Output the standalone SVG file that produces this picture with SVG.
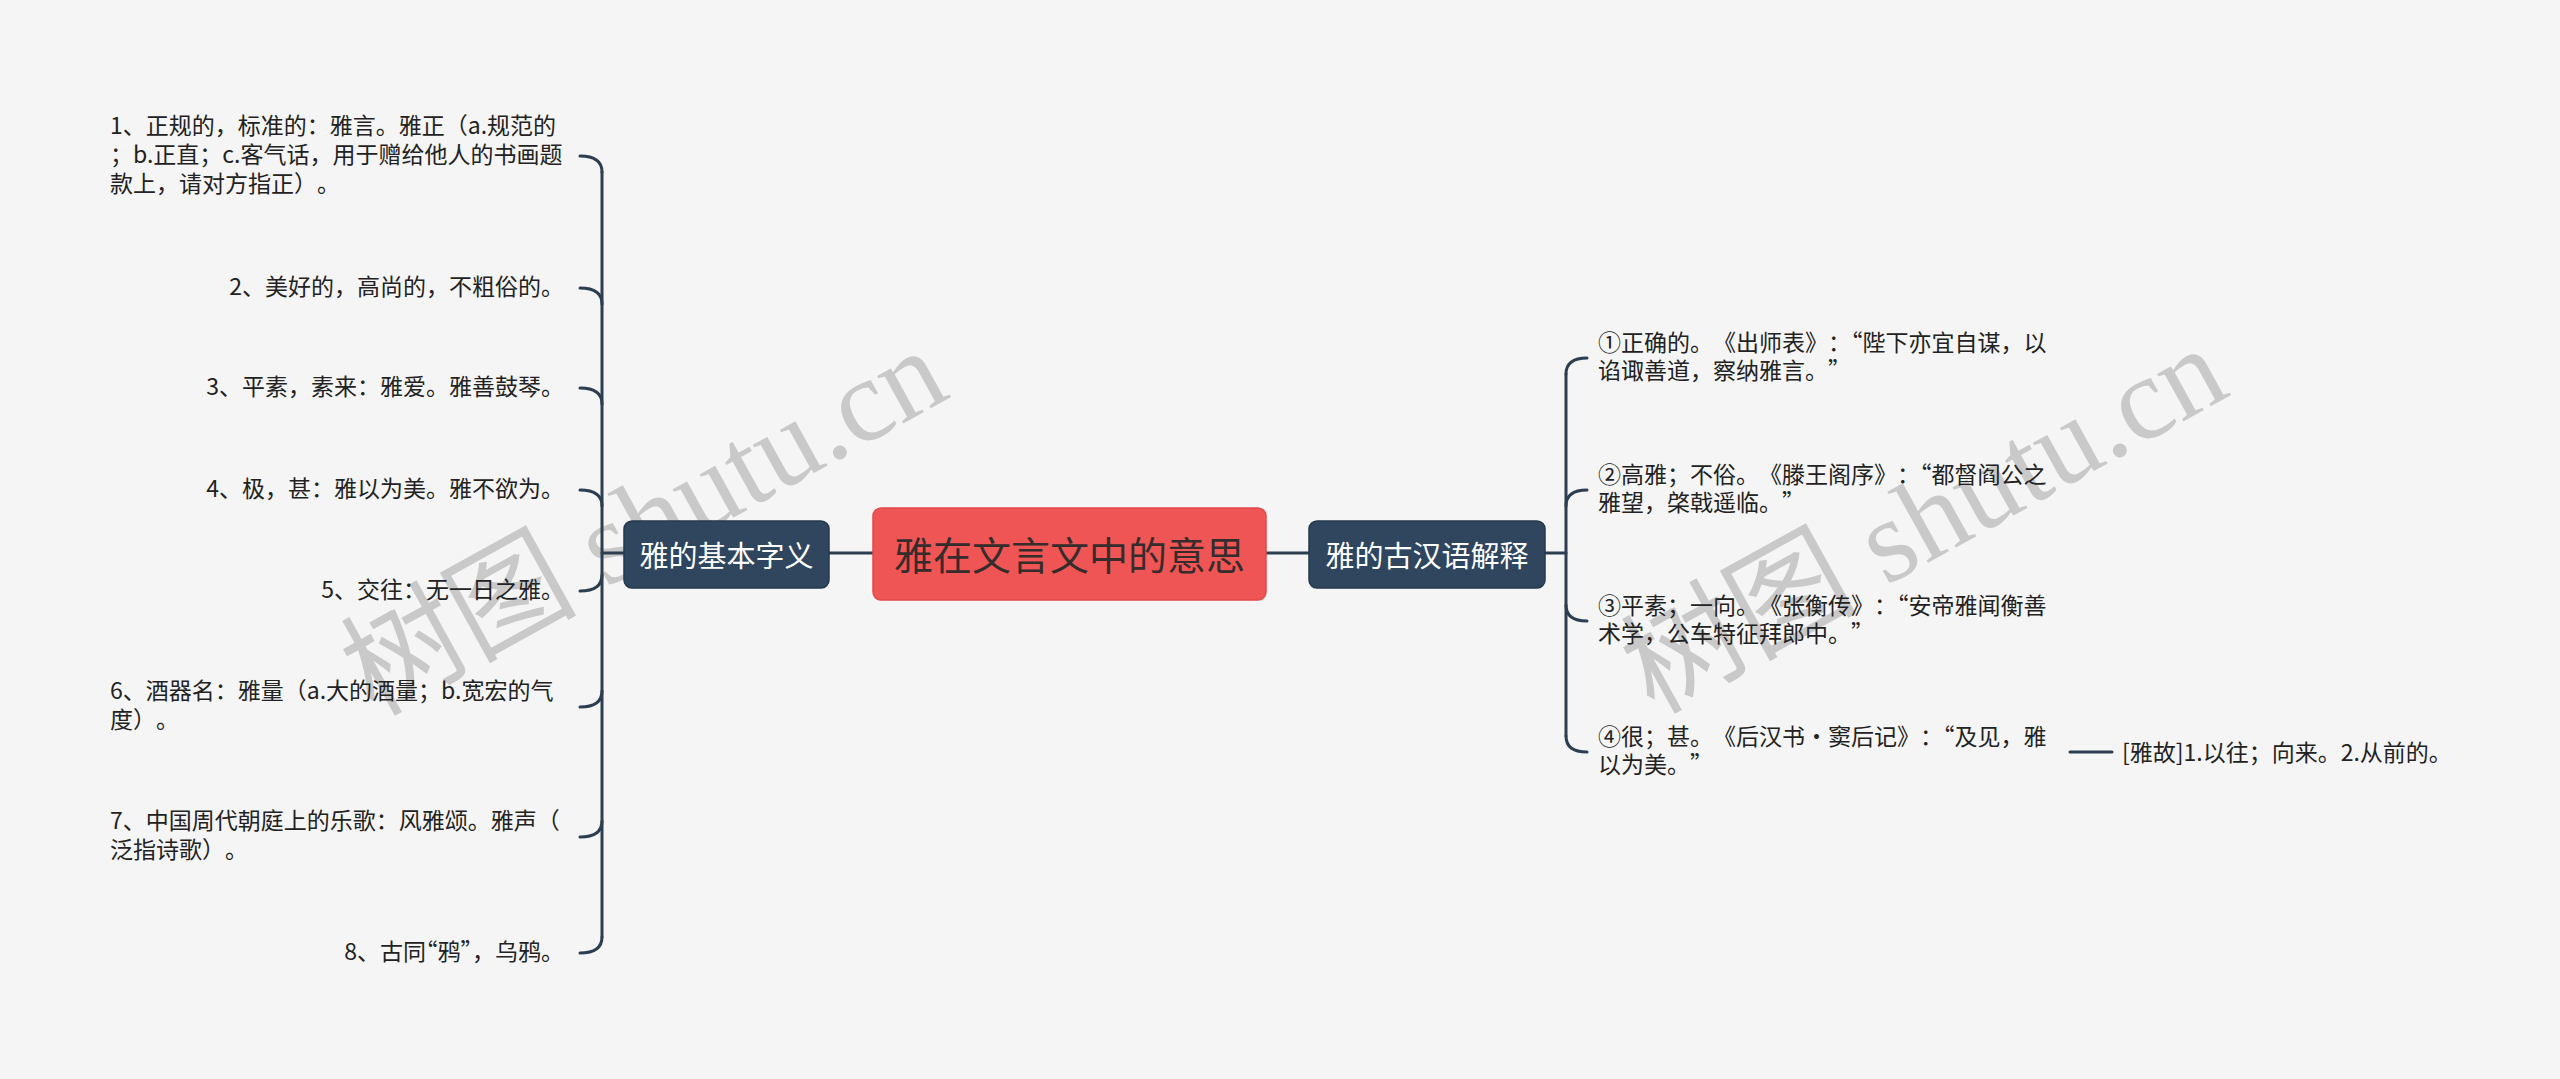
<svg xmlns="http://www.w3.org/2000/svg" width="2560" height="1079" viewBox="0 0 2560 1079">
<style>
.bg{fill:#f5f5f5}
.wm{font-family:"Liberation Serif","Noto Sans CJK SC",serif;font-size:118px;fill:#c9c9c9}
.c{fill:none;stroke:#2c3e50;stroke-width:3;stroke-linecap:round}
.leaf{font-family:"Noto Sans CJK SC","Noto Sans",sans-serif;font-size:23px;fill:#222;dominant-baseline:central;text-spacing-trim:space-all;font-feature-settings:"chws" 0,"halt" 0}
.q{font-feature-settings:"halt" 1}
.end{text-anchor:end}
.br{fill:#30465f;stroke:#24384d;stroke-width:1.5}
.brt{font-family:"Noto Sans CJK SC","Noto Sans",sans-serif;font-size:29px;fill:#ffffff;text-anchor:middle;dominant-baseline:central}
.root{fill:#f05555;stroke:#e14a4a;stroke-width:1.5}
.roott{font-family:"Noto Sans CJK SC","Noto Sans",sans-serif;font-size:39px;fill:#362c2c;text-anchor:middle;dominant-baseline:central}
</style>
<rect class="bg" x="0" y="0" width="2560" height="1079"/>
<g id="watermark">
<text class="wm" x="644" y="522" text-anchor="middle" dominant-baseline="central" transform="rotate(-29 644 522)">树图 shutu.cn</text>
<text class="wm" x="1924" y="520" text-anchor="middle" dominant-baseline="central" transform="rotate(-29 1924 520)">树图 shutu.cn</text>
</g>
<g id="connectors">
<path class="c" d="M829,553 L873,553"/>
<path class="c" d="M1265,553 L1309,553"/>
<path class="c" d="M602,553 L624,553"/>
<path class="c" d="M602,172 L602,937"/>
<path class="c" d="M580,156 Q602,156 602,172"/>
<path class="c" d="M580,288 Q602,288 602,304"/>
<path class="c" d="M580,388 Q602,388 602,404"/>
<path class="c" d="M580,490 Q602,490 602,506"/>
<path class="c" d="M580,591 Q602,591 602,575"/>
<path class="c" d="M580,707 Q602,707 602,691"/>
<path class="c" d="M580,837 Q602,837 602,821"/>
<path class="c" d="M580,953 Q602,953 602,937"/>
<path class="c" d="M1545,553 L1566,553"/>
<path class="c" d="M1566,374 L1566,736"/>
<path class="c" d="M1587,358 Q1566,358 1566,374"/>
<path class="c" d="M1587,490 Q1566,490 1566,506"/>
<path class="c" d="M1587,621 Q1566,621 1566,605"/>
<path class="c" d="M1587,752 Q1566,752 1566,736"/>
<path class="c" d="M2070,752 L2112,752"/>
</g>
<g id="root">
<rect class="root" x="873" y="508" width="393" height="92" rx="8"/>
<text class="roott" x="1069.5" y="553">雅在文言文中的意思</text>
</g>
<g id="branch-left">
<rect class="br" x="624" y="521" width="205" height="67" rx="8"/>
<text class="brt" x="726.5" y="554">雅的基本字义</text>
</g>
<g id="branch-right">
<rect class="br" x="1309" y="521" width="236" height="67" rx="8"/>
<text class="brt" x="1427" y="554">雅的古汉语解释</text>
</g>
<g id="leaf-l1">
<text class="leaf" x="110" y="124">1、正规的，标准的：雅言。雅正（a.规范的</text>
<text class="leaf" x="110" y="153">；b.正直；c.客气话，用于赠给他人的书画题</text>
<text class="leaf" x="110" y="182">款上，请对方指正）。</text>
</g>
<g id="leaf-l2"><text class="leaf end" x="564" y="285">2、美好的，高尚的，不粗俗的。</text></g>
<g id="leaf-l3"><text class="leaf end" x="564" y="385">3、平素，素来：雅爱。雅善鼓琴。</text></g>
<g id="leaf-l4"><text class="leaf end" x="564" y="487">4、极，甚：雅以为美。雅不欲为。</text></g>
<g id="leaf-l5"><text class="leaf end" x="564" y="588">5、交往：无一日之雅。</text></g>
<g id="leaf-l6">
<text class="leaf" x="110" y="689">6、酒器名：雅量（a.大的酒量；b.宽宏的气</text>
<text class="leaf" x="110" y="718">度）。</text>
</g>
<g id="leaf-l7">
<text class="leaf" x="110" y="819">7、中国周代朝庭上的乐歌：风雅颂。雅声（</text>
<text class="leaf" x="110" y="848">泛指诗歌）。</text>
</g>
<g id="leaf-l8"><text class="leaf end" x="564" y="950">8、古同<tspan class="q">“</tspan>鸦<tspan class="q">”</tspan>，乌鸦。</text></g>
<g id="leaf-r1">
<text class="leaf" x="1598" y="341">①正确的。《出师表》：<tspan class="q">“</tspan>陛下亦宜自谋，以</text>
<text class="leaf" x="1598" y="369">谄诹善道，察纳雅言。”</text>
</g>
<g id="leaf-r2">
<text class="leaf" x="1598" y="473">②高雅；不俗。《滕王阁序》：<tspan class="q">“</tspan>都督阎公之</text>
<text class="leaf" x="1598" y="501">雅望，棨戟遥临。”</text>
</g>
<g id="leaf-r3">
<text class="leaf" x="1598" y="604">③平素；一向。《张衡传》：<tspan class="q">“</tspan>安帝雅闻衡善</text>
<text class="leaf" x="1598" y="632">术学，公车特征拜郎中。”</text>
</g>
<g id="leaf-r4">
<text class="leaf" x="1598" y="735">④很；甚。《后汉书·窦后记》：<tspan class="q">“</tspan>及见，雅</text>
<text class="leaf" x="1598" y="763">以为美。”</text>
</g>
<g id="leaf-r4a"><text class="leaf" x="2122" y="751">[雅故]1.以往；向来。2.从前的。</text></g>
</svg>
